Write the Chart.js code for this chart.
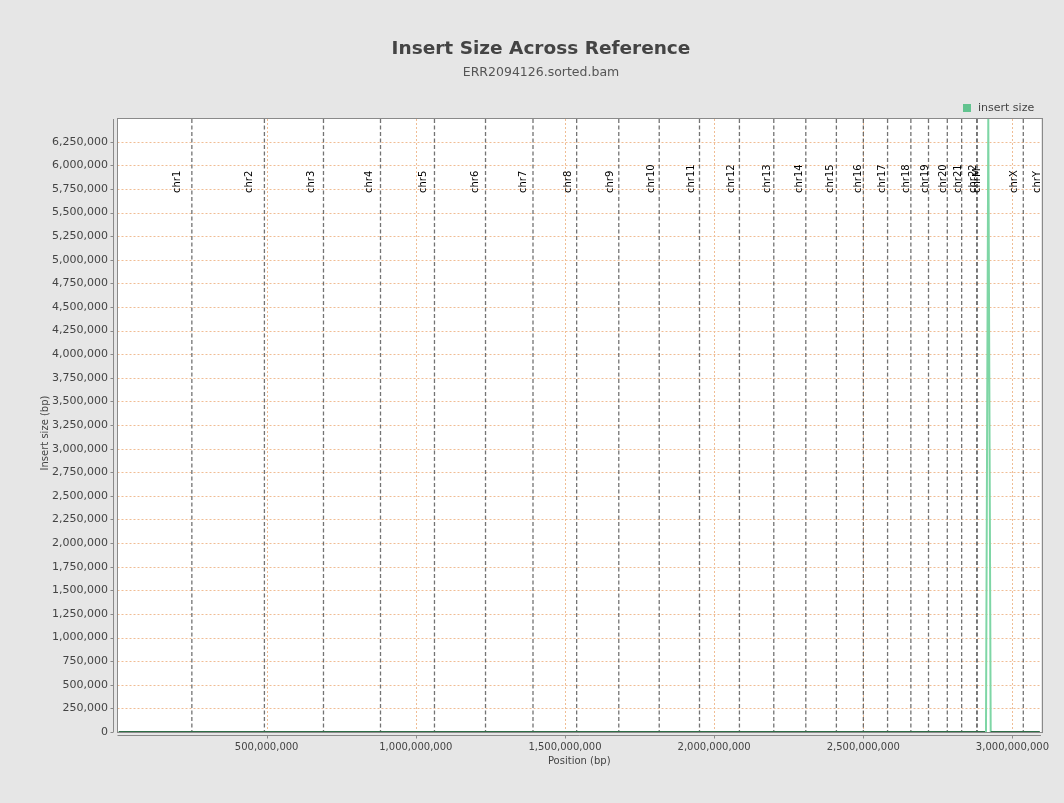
<!DOCTYPE html>
<html>
<head>
<meta charset="utf-8">
<title>Insert Size Across Reference</title>
<script src="https://cdn.jsdelivr.net/npm/chart.js@4.4.0/dist/chart.umd.min.js"></script>
<style>
  html, body { margin: 0; padding: 0; background: #e6e6e6; }
  #wrap { width: 1064px; height: 803px; }
</style>
</head>
<body>
<div id="wrap"><canvas id="chart" width="1064" height="803"></canvas></div>
<script>
// Reference contigs (hg19 order as stored in the BAM header) and their lengths in bp
const chromNames = ['chr1','chr2','chr3','chr4','chr5','chr6','chr7','chr8','chr9','chr10',
  'chr11','chr12','chr13','chr14','chr15','chr16','chr17','chr18','chr19','chr20',
  'chr21','chr22','chrM','chrX','chrY'];
const chromLengths = [249250621, 243199373, 198022430, 191154276, 180915260, 171115067,
  159138663, 146364022, 141213431, 135534747, 135006516, 133851895, 115169878,
  107349540, 102531392, 90354753, 81195210, 78077248, 59128983, 63025520,
  48129895, 51304566, 16571, 155270560, 59373566];

// Windowed insert size along the concatenated reference
const windowPositions = [3900000, 118000000, 236000000, 352000000, 471000000, 590000000,
  707000000, 826000000, 944000000, 1062000000, 1180000000, 1298000000, 1416000000,
  1535000000, 1652000000, 1770000000, 1889000000, 2006000000, 2125000000, 2243000000,
  2361000000, 2480000000, 2598000000, 2716000000, 2834000000, 2880000000, 2911300000,
  2919000000, 2927100000, 2960000000, 3000000000, 3040000000, 3091800000];
const insertSizes = [318, 305, 297, 311, 322, 301, 296, 309, 315, 300, 292, 307, 319,
  303, 298, 312, 306, 294, 301, 316, 309, 297, 303, 311, 305, 299, 310,
  6490000, 308, 296, 302, 311, 300];

// Tick values shown on the axes
const yTickValues = [0, 250000, 500000, 750000, 1000000, 1250000, 1500000, 1750000,
  2000000, 2250000, 2500000, 2750000, 3000000, 3250000, 3500000, 3750000, 4000000,
  4250000, 4500000, 4750000, 5000000, 5250000, 5500000, 5750000, 6000000, 6250000];
const xTickValues = [500000000, 1000000000, 1500000000, 2000000000, 2500000000, 3000000000];
const seriesLabel = 'insert size';

const FONT = "'DejaVu Sans', 'Liberation Sans', sans-serif";
const totalLength = chromLengths.reduce((a, b) => a + b, 0);
const chromStarts = chromLengths.map((_, i) => chromLengths.slice(0, i).reduce((a, b) => a + b, 0));

const points = windowPositions.map((x, i) => ({ x, y: insertSizes[i] }));

const frame = {
  id: 'frame',
  beforeDraw(chart) {
    const { ctx, chartArea: a } = chart;
    ctx.save();
    ctx.fillStyle = '#e6e6e6';
    ctx.fillRect(0, 0, chart.width, chart.height);
    ctx.fillStyle = '#ffffff';
    ctx.fillRect(a.left, a.top, a.right - a.left, a.bottom - a.top);
    ctx.restore();
  },
  beforeDatasetsDraw(chart) {
    const { ctx, chartArea: a, scales: { x, y } } = chart;
    ctx.save();
    // dotted grid lines
    ctx.strokeStyle = '#f0bd94';
    ctx.lineWidth = 1;
    ctx.setLineDash([2, 2]);
    y.ticks.forEach(t => {
      const py = Math.round(y.getPixelForValue(t.value)) + 0.5;
      if (py <= a.top + 1 || py >= a.bottom - 1) return;
      ctx.beginPath(); ctx.moveTo(a.left, py); ctx.lineTo(a.right, py); ctx.stroke();
    });
    x.ticks.forEach(t => {
      const px = Math.round(x.getPixelForValue(t.value)) + 0.5;
      if (px <= a.left + 1 || px >= a.right - 1) return;
      ctx.beginPath(); ctx.moveTo(px, a.top); ctx.lineTo(px, a.bottom); ctx.stroke();
    });
    // contig boundary markers
    ctx.strokeStyle = 'rgba(80,80,80,0.8)';
    ctx.lineWidth = 1.3;
    ctx.setLineDash([4, 2.5]);
    for (let i = 1; i < chromNames.length; i++) {
      const px = x.getPixelForValue(chromStarts[i]);
      ctx.beginPath(); ctx.moveTo(px, a.top); ctx.lineTo(px, a.bottom); ctx.stroke();
    }
    ctx.setLineDash([]);
    // contig names, rotated, reading upwards
    ctx.fillStyle = '#000';
    ctx.font = '10px ' + FONT;
    ctx.textAlign = 'left';
    ctx.textBaseline = 'middle';
    chromNames.forEach((name, i) => {
      const px = x.getPixelForValue(chromStarts[i] + 0.8 * chromLengths[i]);
      ctx.save();
      ctx.translate(px, 193);
      ctx.rotate(-Math.PI / 2);
      ctx.fillText(name, 0, 0);
      ctx.restore();
    });
    // plot outline
    ctx.strokeStyle = '#8a8a8a';
    ctx.lineWidth = 1;
    ctx.strokeRect(Math.round(a.left) - 0.5, Math.round(a.top) - 0.5,
      Math.round(a.right - a.left) + 1, Math.round(a.bottom - a.top) + 1);
    ctx.restore();
  },
  afterDraw(chart) {
    const { ctx, chartArea: a, scales: { x, y } } = chart;
    ctx.save();
    // offset axis lines with tick marks
    ctx.strokeStyle = '#8a8a8a';
    ctx.lineWidth = 1;
    const axX = Math.round(a.left) - 4.5;
    ctx.beginPath(); ctx.moveTo(axX, a.top); ctx.lineTo(axX, a.bottom); ctx.stroke();
    y.ticks.forEach(t => {
      const py = Math.round(y.getPixelForValue(t.value)) + 0.5;
      ctx.beginPath(); ctx.moveTo(axX - 3, py); ctx.lineTo(axX, py); ctx.stroke();
    });
    const axY = Math.round(a.bottom) + 3.5;
    ctx.beginPath(); ctx.moveTo(a.left, axY); ctx.lineTo(a.right, axY); ctx.stroke();
    x.ticks.forEach(t => {
      const px = Math.round(x.getPixelForValue(t.value)) + 0.5;
      ctx.beginPath(); ctx.moveTo(px, axY); ctx.lineTo(px, axY + 3); ctx.stroke();
    });

    // titles
    ctx.textAlign = 'center';
    ctx.textBaseline = 'middle';
    ctx.fillStyle = '#444';
    ctx.font = 'bold 18.5px ' + FONT;
    ctx.fillText('Insert Size Across Reference', 541, 49);
    ctx.fillStyle = '#555';
    ctx.font = '12.5px ' + FONT;
    ctx.fillText('ERR2094126.sorted.bam', 541, 73);

    // axis titles
    ctx.fillStyle = '#444';
    ctx.font = '10px ' + FONT;
    ctx.fillText('Position (bp)', (a.left + a.right) / 2, 761);
    ctx.save();
    ctx.translate(45, 433);
    ctx.rotate(-Math.PI / 2);
    ctx.fillText('Insert size (bp)', 0, 0);
    ctx.restore();

    // legend
    const ds = chart.data.datasets[0];
    ctx.fillStyle = ds.legendColor;
    ctx.fillRect(963, 104, 8, 8);
    ctx.fillStyle = '#444';
    ctx.font = '11px ' + FONT;
    ctx.textAlign = 'left';
    ctx.fillText(ds.label, 978, 108);
    ctx.restore();
  }
};

new Chart(document.getElementById('chart'), {
  type: 'line',
  data: {
    datasets: [{
      label: seriesLabel,
      data: points,
      legendColor: '#62c38f',
      borderColor: '#7ed6a5',
      borderWidth: 2,
      pointRadius: 0,
      tension: 0,
      segment: {
        borderColor: ctx => (ctx.p0.parsed.y < 100000 && ctx.p1.parsed.y < 100000) ? '#2f6e47' : '#7ed6a5'
      }
    }]
  },
  options: {
    responsive: false,
    animation: false,
    devicePixelRatio: 1,
    layout: { padding: { left: 0, top: 119, right: 23, bottom: 41 } },
    plugins: { legend: { display: false }, title: { display: false }, tooltip: { enabled: false } },
    scales: {
      x: {
        type: 'linear',
        min: 0,
        max: totalLength,
        grid: { display: false, drawTicks: false },
        border: { display: false },
        afterBuildTicks: s => { s.ticks = xTickValues.map(v => ({ value: v })); },
        afterFit: s => { s.height = 30; },
        ticks: {
          autoSkip: false,
          maxRotation: 0,
          padding: 9,
          color: '#444',
          font: { family: FONT, size: 10 },
          callback: v => v.toLocaleString('en-US')
        }
      },
      y: {
        type: 'linear',
        min: 0,
        max: 6490000,
        grid: { display: false, drawTicks: false },
        border: { display: false },
        afterBuildTicks: s => { s.ticks = yTickValues.map(v => ({ value: v })); },
        afterFit: s => { s.width = 117.5; },
        ticks: {
          autoSkip: false,
          padding: 9.5,
          color: '#444',
          font: { family: FONT, size: 11 },
          callback: v => v.toLocaleString('en-US')
        }
      }
    }
  },
  plugins: [frame]
});
</script>
</body>
</html>
